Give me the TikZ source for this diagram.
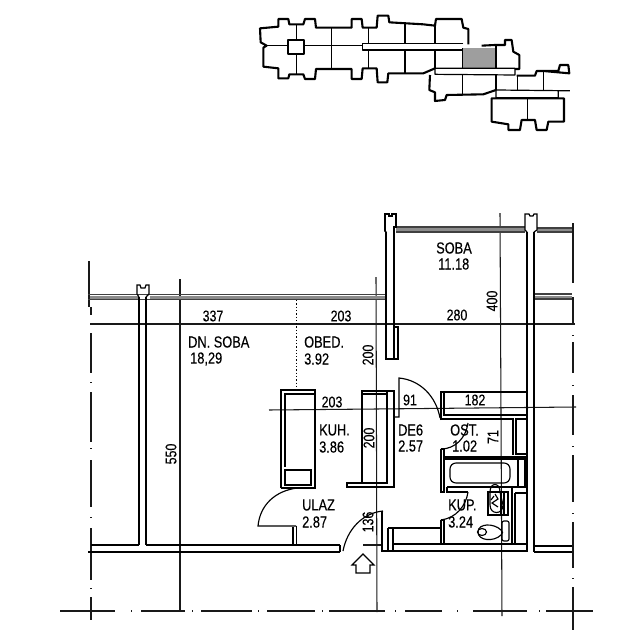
\documentclass[tikz,border=0pt]{standalone}
\usepackage{fontspec}
\setmainfont[FakeStretch=0.8,FakeBold=0.25]{Liberation Sans}
\tikzset{
 x=1pt,y=-1pt,
 axis/.style={line width=1.05pt,black!90},
 wall/.style={line width=1.15pt,black},
 dotline/.style={line width=1.3pt,dotted,black},
 graywall/.style={line width=1.1pt,black!75},
 grayfill/.style={black!45},
 key/.style={line width=1.2pt,black,line join=round},
 keythick/.style={line width=2.1pt,black,line join=round},
 lbl/.style={inner sep=0pt,font=\fontsize{16}{16}\selectfont,text=black},
 dim/.style={inner sep=0pt,font=\fontsize{15.5}{15.5}\selectfont,text=black},
}
\begin{document}
\begin{tikzpicture}
\useasboundingbox[fill=white] (0,0) rectangle (640,640);
% ---- key plan ----
\begin{scope}[shift={(250,5)},x=0.3333pt,y=-0.3333pt]
\fill[black!38] (638,130) rectangle (738,192);
\draw[keythick] (655,118)--(655,72)--(640,68)--(635,42)--(558,42)--(555,62)--(520,58)--(418,52)--(415,32)--(383,32)--(380,68)--(338,68)--(335,42)--(305,42)--(305,68)--(198,68)--(195,42)--(165,42)--(160,58)--(118,58)--(115,42)--(85,42)--(85,65)--(30,70)--(32,112)--(50,122)--(40,128)--(40,185)--(85,190)--(85,220)--(115,220)--(118,208)--(160,208)--(165,222)--(195,222)--(198,192)--(305,192)--(305,222)--(335,222)--(338,190)--(380,190)--(383,232)--(412,232)--(415,205)--(520,205)--(555,190);
\draw[key] (555,190)--(795,190)--(795,210)--(555,208)--(555,190);
\draw[key] (640,115)--(338,115)--(338,135)--(640,135);
\draw[key] (50,122)--(113,122) (163,122)--(338,122);
\draw[keythick] (113,105) rectangle (163,148);
\draw[key] (140,58)--(140,105) (140,148)--(140,208) (245,68)--(245,192) (355,68)--(355,115) (355,135)--(355,190) (465,55)--(465,115) (465,135)--(465,205) (555,60)--(555,115) (555,135)--(555,190);
\draw[key] (638,130)--(638,190) (738,120)--(738,192);
\draw[keythick] (695,122)--(735,120)--(765,120)--(765,105)--(785,105)--(790,140)--(808,150)--(808,192)--(795,192);
\draw[keythick] (540,210)--(538,255)--(555,262)--(555,288)--(585,285)--(590,270)--(700,268)--(738,255);
\draw[key] (638,210)--(638,270) (738,210)--(738,255) (802,210)--(802,255) (880,198)--(880,255);
\draw[keythick] (800,212)--(855,212)--(860,198)--(925,198)--(930,180)--(955,180)--(958,205)--(880,198);
\draw[key] (738,255)--(925,257)--(925,278)--(738,278)--(738,255) (925,257)--(960,257);
\draw[keythick] (725,280)--(942,280)--(942,350)--(895,350)--(890,375)--(860,375)--(855,345)--(815,345)--(810,375)--(775,375)--(775,358)--(725,350)--cycle;
\draw[key] (832,280)--(832,345);
\end{scope}
% ---- axes ----
\draw[axis] (180,279)--(180,611);
\draw[axis] (376,277)--(377,612);
\draw[axis] (500,213)--(502,616);
\draw[axis] (90,324)--(575,324);
\draw[axis] (269,410)--(376,409)--(576,407);
\draw[axis] (89,261)--(89,307) (91,307)--(91,315) (91,333)--(91,373) (91,382)--(91,383) (91,392)--(91,442) (91,448)--(91,449) (91,460)--(91,507) (91,517)--(91,518) (91,528)--(91,580) (91,588)--(91,589) (91,597)--(91,620);
\draw[axis] (573,223)--(573,283) (573,297)--(573,325) (573,335)--(573,336) (573,342)--(573,373) (573,385)--(573,386) (573,395)--(573,435) (573,446)--(573,447) (573,455)--(573,502) (573,513)--(573,514) (573,522)--(573,568) (573,578)--(573,579) (573,587)--(573,630);
\draw[axis] (60,611)--(115,611) (131,611)--(132,611) (141,611)--(185,611) (192,611)--(193,611) (201,611)--(252,611) (258,611)--(259,611) (267,611)--(315,611) (322,611)--(323,611) (329,611)--(385,611) (395,611)--(396,611) (405,611)--(442,611) (457,611)--(458,611) (473,611)--(527,611) (539,611)--(540,611) (546,611)--(593,611);
% ---- outer walls ----
\draw[grayfill,line width=3pt] (90,297)--(138,297) (150,297)--(385,297);
\draw[graywall] (88,294.5)--(385,294.5) (88,299.5)--(385,299.5);
\draw[grayfill,line width=2.5pt] (396,229.5)--(525,229.5);
\draw[graywall] (396,227)--(525,227) (396,232)--(525,232);
\draw[grayfill,line width=2pt] (537,230)--(572,230) (535,296.5)--(572,296.5);
\draw[graywall] (537,228)--(572,228) (537,232)--(572,232);
\draw[graywall] (535,294)--(572,294) (535,299)--(572,299);
\draw[wall] (139,297)--(139,545) (146,297)--(146,545);
\draw[wall] (139,297)--(137,294)--(137,285)--(140,285)--(141,288)--(145,288)--(146,285)--(149,285)--(149,294)--(146,297);
\draw[wall] (91,545)--(139,545) (146,545)--(340,545);
\draw[wall] (88,552)--(340,552) (340,545)--(340,552);
\draw[wall] (386,232)--(386,359)--(398,359)--(398,327)--(394,327) (394,232)--(394,359);
\draw[wall,line width=1.6pt] (394,232)--(394,227)--(396,227)--(396,214)--(392,214)--(392,216)--(389,216)--(389,214)--(385,214)--(385,231)--(386,232);
\draw[wall] (527,232)--(527,552) (534,232)--(534,552);
\draw[wall] (527,232)--(525,230)--(525,214)--(529,214)--(530,216)--(533,216)--(534,214)--(537,214)--(537,230)--(534,232);
\draw[wall] (534,546)--(572,546);
\draw[wall] (534,552)--(572,552);
% ---- kitchen unit ----
\draw[wall] (281,488)--(281,390)--(315,390)--(315,488)--(281,488);
\draw[wall] (285,467)--(285,394)--(315,394);
\draw[wall] (285,470) rectangle (311,485);
\draw[dotline] (296.7,300)--(296.7,390);
% ---- ULAZ door ----
\draw[wall] (297,488) .. controls (275,491) and (260,505) .. (258,526)--(296,526);
\draw[wall] (293,527)--(293,545) (296.5,526)--(296.5,545);
% ---- entry ----
\draw[wall] (343,551) .. controls (347,530) and (362,513) .. (383,511);
\draw[wall] (382,511)--(382,551)--(388,551) (388,528)--(388,551) (393,528)--(393,551) (388,528)--(393,528);
\draw[wall] (393,528)--(441,528) (441,520)--(441,544) (444,520)--(444,544) (441,520)--(444,520);
\draw[wall] (393,544)--(527,544);
\draw[wall] (388,551)--(527,551);
\draw[axis] (363,545)--(381,545);
\draw[wall] (363,554)--(374,565)--(370,565)--(370,573)--(356,573)--(356,565)--(352,565)--cycle;
% ---- kitchen wall ----
\draw[wall] (362,483)--(362,391)--(394,391)--(394,487)--(347,487)--(347,483)--(387,483)--(387,391) (362,394)--(387,394);
% ---- door 91 ----
\draw[wall] (394,417)--(399,417)--(399,378) .. controls (420,380) and (436,396) .. (440,418);
% ---- 182 block ----
\draw[wall] (441,420)--(441,392)--(527,392);
\draw[wall] (444,392)--(444,415)--(527,415);
\draw[wall] (441,419)--(513,419)--(513,455);
\draw[wall] (516,419) rectangle (527,454);
\draw[wall] (441,449)--(441,492)--(444,492)--(444,449)--(441,449);
\draw[wall] (441,449) .. controls (455,449) and (466,438) .. (468,423);
\draw[wall] (444,457)--(527,457);
\draw[wall] (444,459)--(525,459)--(525,487);
\draw[wall,rounded corners=6pt] (450,463) rectangle (510,483);
\draw[wall] (518,460)--(518,487);
\draw[wall] (447,487)--(527,487);
\draw[wall] (447,487)--(447,492)--(468,492);
\draw[wall] (468,492) .. controls (466,506) and (456,518) .. (441,520);
% ---- sanitary ----
\draw[wall] (488,492) rectangle (508,515);
\draw[wall] (504,492)--(504,515) (501,492)--(501,515);
\draw[wall] (490,492) .. controls (490,482) and (500,482) .. (500,492)--(503,505) .. controls (503,515) and (490,515) .. (490,505)--cycle;
\draw[wall] (495,494)--(498,499)--(492,503)--(498,507) (494,496)--(491,500);
\draw[wall] (512,487)--(512,545) (515,493)--(515,545) (515,493)--(527,493);
\draw[wall] (478,532) .. controls (478,523) and (494,523) .. (501,530) .. controls (503,532) and (503,533) .. (501,535) .. controls (494,542) and (478,541) .. (478,532);
\draw[wall] (482,532) ellipse (4.5 and 3.5);
\draw[wall,rounded corners=2pt] (502,521) rectangle (509,541);
% ---- labels ----
\node[lbl,anchor=west] (dn) at (188,342) {DN. SOBA};
\node[lbl,anchor=west] (dna) at (190,359) {18,29};
\node[lbl,anchor=west] (ob) at (304,342) {OBED.};
\node[lbl,anchor=west] (oba) at (304,359) {3.92};
\node[lbl,anchor=west] (so) at (436,248) {SOBA};
\node[lbl,anchor=west] (soa) at (438,264) {11.18};
\node[lbl,anchor=west] (ku) at (319,430) {KUH.};
\node[lbl,anchor=west] (kua) at (319,447) {3.86};
\node[lbl,anchor=west] (ul) at (302,505) {ULAZ};
\node[lbl,anchor=west] (ula) at (302,522) {2.87};
\node[lbl,anchor=west] (de) at (398,430) {DE6};
\node[lbl,anchor=west] (dea) at (398,446) {2.57};
\node[lbl,anchor=west] (os) at (450,430) {OST.};
\node[lbl,anchor=west] (osa) at (452,446) {1.02};
\node[lbl,anchor=west] (kp) at (448,505) {KUP.};
\node[lbl,anchor=west] (kpa) at (448,522) {3.24};
\node[dim] (d1) at (213,316) {337};
\node[dim] (d2) at (341,316) {203};
\node[dim] (d3) at (457,315) {280};
\node[dim] (d4) at (332,402) {203};
\node[dim] (d5) at (475,400) {182};
\node[dim] (d6) at (410,400) {91};
\node[dim,rotate=90] (d7) at (171,454) {550};
\node[dim,rotate=90] (d8) at (369,438) {200};
\node[dim,rotate=90] (d9) at (368,355) {200};
\node[dim,rotate=90] (d10) at (492,301) {400};
\node[dim,rotate=90] (d11) at (493,437) {71};
\node[dim,rotate=90] (d12) at (368,522) {136};
\end{tikzpicture}
\end{document}
